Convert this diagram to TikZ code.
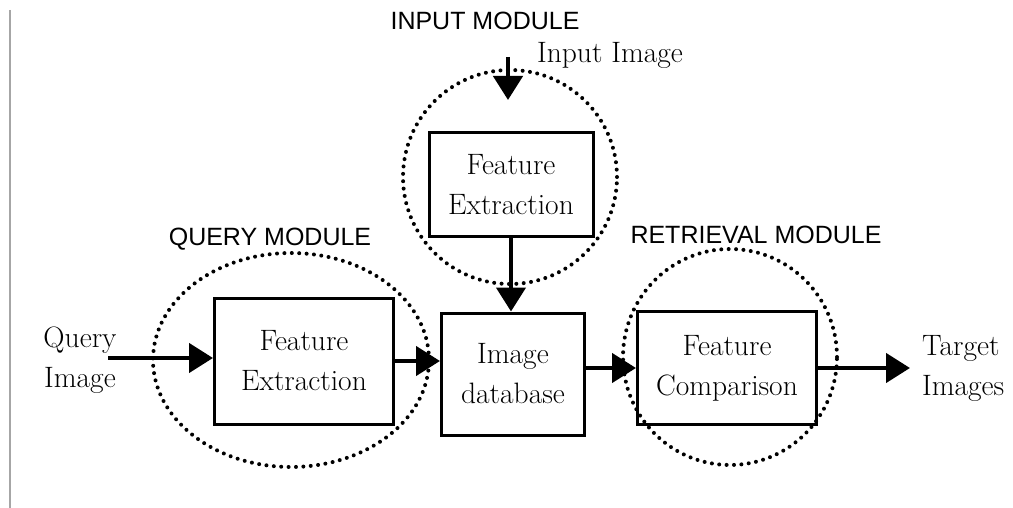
\documentclass[tikz,border=0pt]{standalone}
\usepackage{fontspec}
\usepackage{tikz}
\usetikzlibrary{arrows.meta}
\newfontfamily\modfont{Liberation Sans}
\newcommand{\boxfont}{\fontsize{29.5}{40}\selectfont}

\begin{document}
\begin{tikzpicture}[x=1pt, y=-1pt,
        blockbox/.style={draw, line width=3pt, align=center, inner sep=0pt, font=\boxfont},
        plain/.style={align=center, inner sep=0pt, font=\boxfont},
        modlabel/.style={inner sep=0pt, font=\modfont\fontsize{25}{30}\selectfont},
        ring/.style={line width=4pt, line cap=round, dash pattern=on 0pt off 7.4pt},
        flow/.style={line width=4.5pt, -{Triangle[length=24pt, width=29pt]}}]
        \useasboundingbox (0,0) rectangle (1013,508);

        % Draw the rule on the left
        \draw[black!35, line width=1.5pt] (10,10) -- (10,508);

        % Draw the dotted module rings
        \foreach \cx/\cy/\rx/\ry in {291/360/138/107, 510/177/107/107, 730/357/107/108}
            \draw[ring] (\cx,\cy) ellipse [x radius=\rx pt, y radius=\ry pt];

        % Draw the module names
        \node[modlabel] (qmod) at (270,239) {QUERY MODULE};
        \node[modlabel] (imod) at (485,21) {INPUT MODULE};
        \node[modlabel] (rmod) at (756,235) {RETRIEVAL MODULE};

        % Draw the blocks
        \node[blockbox, minimum width=179pt, minimum height=126pt] (qext) at (304,361) {Feature\\Extraction};
        \node[blockbox, minimum width=164pt, minimum height=104pt] (iext) at (511,185) {Feature\\Extraction};
        \node[blockbox, minimum width=143pt, minimum height=122pt] (imgdb) at (513,374) {Image\\database};
        \node[blockbox, minimum width=179pt, minimum height=113pt] (cmp) at (727,368) {Feature\\Comparison};

        % Draw the outside texts
        \node[plain] (qimg) at (80,360) {Query\\Image};
        \node[plain] (iimg) at (610,55) {Input Image};
        \node[plain, anchor=west, align=left] (tgt) at (922,368) {Target\\Images};

        % Draw the arrows
        \coordinate (qin) at (108,358);
        \coordinate (iin) at (508,57);
        \coordinate (iend) at (508,100);
        \draw[flow] (qin) -- (qin -| qext.west);
        \draw[flow] (qext.east) -- (qext.east -| imgdb.west);
        \draw[flow] (iin) -- (iend);
        \draw[flow] (iext.south) -- (iext.south |- imgdb.north);
        \draw[flow] (imgdb.east |- cmp.west) -- (cmp.west);
        \draw[flow, shorten >=12pt] (cmp.east) -- (cmp.east -| tgt.west);
\end{tikzpicture}
\end{document}
